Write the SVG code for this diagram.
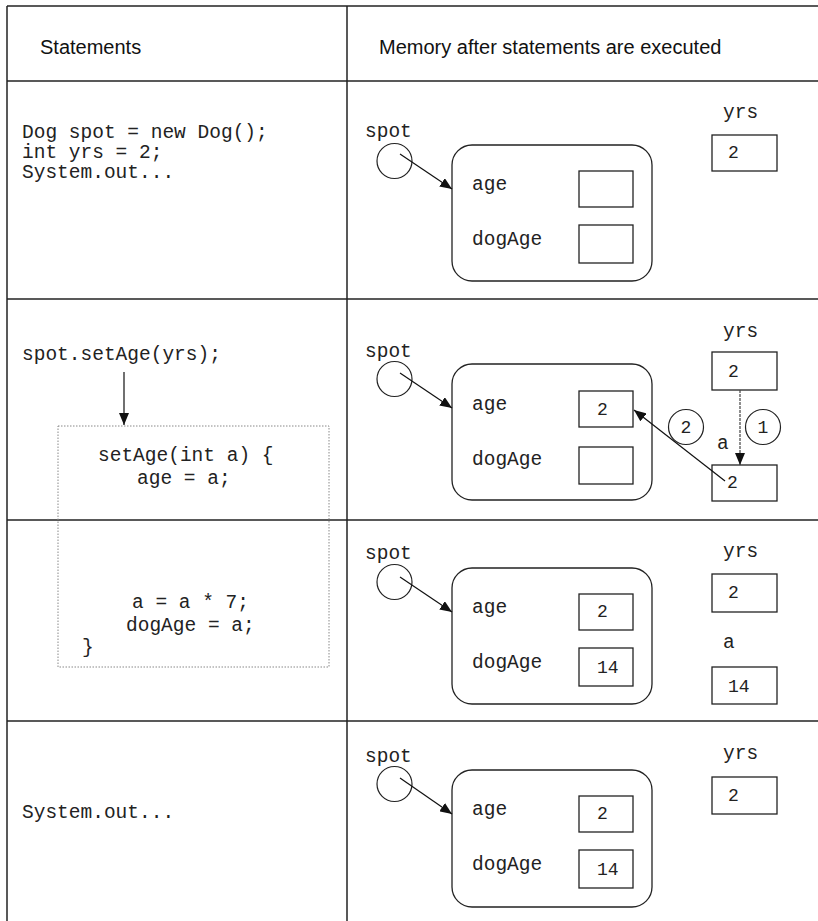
<svg xmlns="http://www.w3.org/2000/svg" width="818" height="921" viewBox="0 0 818 921">
<defs>
<style>
.bg{fill:#fff}
.grid{stroke:#222;stroke-width:1.5;fill:none}
.hdr{font-family:"Liberation Sans",Arial,sans-serif;font-size:20px;fill:#111}
.code{font-family:"Liberation Mono","Courier New",monospace;font-size:19.5px;fill:#222}
.num{font-family:"Liberation Mono","Courier New",monospace;font-size:18px;fill:#222}
.obj{fill:#fff;stroke:#222;stroke-width:1.3}
.box{fill:#fff;stroke:#222;stroke-width:1.3}
.ref{fill:#fff;stroke:#222;stroke-width:1.2}
.conn{stroke:#111;stroke-width:1.2;fill:none}
.dash{stroke:#444;stroke-width:1.2;fill:none;stroke-dasharray:3 1}
.dots{fill:none;stroke:#888;stroke-width:1;stroke-dasharray:1.5 1.5}
</style>
<marker id="ah" viewBox="0 0 12 10" refX="12" refY="5" markerWidth="12" markerHeight="10" markerUnits="userSpaceOnUse" orient="auto"><path d="M0,0 L12,5 L0,10 z" fill="#111"/></marker>
</defs>
<rect class="bg" x="0" y="0" width="818" height="921"/>

<g id="table">
<line class="grid" x1="7" y1="6" x2="818" y2="6"/>
<line class="grid" x1="7" y1="81" x2="818" y2="81"/>
<line class="grid" x1="7" y1="299" x2="818" y2="299"/>
<line class="grid" x1="7" y1="520" x2="818" y2="520"/>
<line class="grid" x1="7" y1="721" x2="818" y2="721"/>
<line class="grid" x1="7" y1="6" x2="7" y2="921"/>
<line class="grid" x1="347" y1="6" x2="347" y2="921"/>
<text class="hdr" x="40" y="54">Statements</text>
<text class="hdr" x="379" y="54">Memory after statements are executed</text>
</g>

<g id="stmt1">
<text class="code" x="22" y="138">Dog spot = new Dog();</text>
<text class="code" x="22" y="158">int yrs = 2;</text>
<text class="code" x="22" y="178">System.out...</text>
</g>

<g id="stmt2">
<text class="code" x="22" y="360">spot.setAge(yrs);</text>
</g>

<g id="method">
<rect class="dots" x="58" y="426" width="271" height="241"/>
<text class="code" x="98" y="461">setAge(int a) {</text>
<text class="code" x="137" y="484">age = a;</text>
<text class="code" x="132" y="608">a = a * 7;</text>
<text class="code" x="126" y="631">dogAge = a;</text>
<text class="code" x="82" y="653">}</text>
</g>

<g id="stmt4">
<text class="code" x="22" y="818">System.out...</text>
</g>

<!-- Row 1 memory -->
<g id="r1-spot">
<text class="code" x="365" y="137">spot</text>
<circle class="ref" cx="394.5" cy="161" r="17.5"/>
</g>
<g id="r1-dog">
<rect class="obj" x="452" y="145" width="200" height="136" rx="20" ry="20"/>
<text class="code" x="472" y="190">age</text>
<rect class="box" x="579" y="171" width="54" height="36"/>
<text class="code" x="472" y="245">dogAge</text>
<rect class="box" x="579" y="225" width="54" height="38"/>
</g>
<g id="r1-yrs">
<text class="code" x="723" y="118">yrs</text>
<rect class="box" x="712" y="135" width="65" height="36"/>
<text class="num" x="728" y="158">2</text>
</g>

<!-- Row 2 memory -->
<g id="r2-spot">
<text class="code" x="365" y="357">spot</text>
<circle class="ref" cx="394.5" cy="379" r="17.5"/>
</g>
<g id="r2-dog">
<rect class="obj" x="452" y="364" width="200" height="136" rx="20" ry="20"/>
<text class="code" x="472" y="410">age</text>
<rect class="box" x="579" y="391" width="54" height="36"/>
<text class="num" x="597" y="415">2</text>
<text class="code" x="472" y="465">dogAge</text>
<rect class="box" x="579" y="447" width="54" height="37"/>
</g>
<g id="r2-yrs">
<text class="code" x="723" y="337">yrs</text>
<rect class="box" x="712" y="352" width="65" height="38"/>
<text class="num" x="728" y="377">2</text>
</g>
<g id="r2-a">
<text class="code" x="717" y="449">a</text>
<rect class="box" x="712" y="465" width="65" height="36"/>
<text class="num" x="727" y="488">2</text>
</g>
<g id="r2-step2">
<circle class="ref" cx="686" cy="427" r="17.5"/>
<text class="num" x="686" y="433" text-anchor="middle">2</text>
</g>
<g id="r2-step1">
<circle class="ref" cx="763" cy="427" r="17.5"/>
<text class="num" x="763" y="433" text-anchor="middle">1</text>
</g>

<!-- Row 3 memory -->
<g id="r3-spot">
<text class="code" x="365" y="559">spot</text>
<circle class="ref" cx="394.5" cy="582" r="17.5"/>
</g>
<g id="r3-dog">
<rect class="obj" x="452" y="568" width="200" height="136" rx="20" ry="20"/>
<text class="code" x="472" y="613">age</text>
<rect class="box" x="579" y="594" width="54" height="36"/>
<text class="num" x="597" y="617">2</text>
<text class="code" x="472" y="668">dogAge</text>
<rect class="box" x="579" y="648" width="54" height="38"/>
<text class="num" x="597" y="673">14</text>
</g>
<g id="r3-yrs">
<text class="code" x="723" y="557">yrs</text>
<rect class="box" x="712" y="574" width="65" height="38"/>
<text class="num" x="728" y="598">2</text>
</g>
<g id="r3-a">
<text class="code" x="723" y="648">a</text>
<rect class="box" x="712" y="667" width="65" height="37"/>
<text class="num" x="728" y="692">14</text>
</g>

<!-- Row 4 memory -->
<g id="r4-spot">
<text class="code" x="365" y="762">spot</text>
<circle class="ref" cx="394.5" cy="784" r="17.5"/>
</g>
<g id="r4-dog">
<rect class="obj" x="452" y="770" width="200" height="137" rx="20" ry="20"/>
<text class="code" x="472" y="815">age</text>
<rect class="box" x="579" y="796" width="54" height="36"/>
<text class="num" x="597" y="819">2</text>
<text class="code" x="472" y="870">dogAge</text>
<rect class="box" x="579" y="850" width="54" height="38"/>
<text class="num" x="597" y="875">14</text>
</g>
<g id="r4-yrs">
<text class="code" x="723" y="759">yrs</text>
<rect class="box" x="712" y="777" width="65" height="37"/>
<text class="num" x="728" y="801">2</text>
</g>

<g id="connectors">
<line class="conn" x1="124" y1="372" x2="124" y2="425" marker-end="url(#ah)"/>
<line class="conn" x1="400" y1="154" x2="452" y2="189" marker-end="url(#ah)"/>
<line class="conn" x1="400" y1="373" x2="452" y2="408" marker-end="url(#ah)"/>
<line class="conn" x1="400" y1="577" x2="452" y2="612" marker-end="url(#ah)"/>
<line class="conn" x1="400" y1="778" x2="452" y2="814" marker-end="url(#ah)"/>
<line class="dash" x1="740" y1="390" x2="740" y2="465" marker-end="url(#ah)"/>
<line class="conn" x1="725" y1="481" x2="634" y2="410" marker-end="url(#ah)"/>
</g>
</svg>
